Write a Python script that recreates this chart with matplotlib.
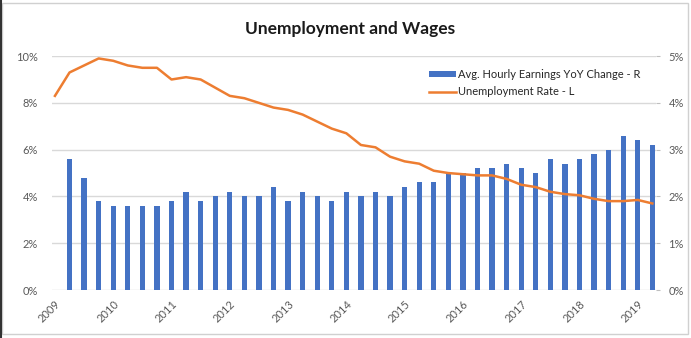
import matplotlib.pyplot as plt
import numpy as np
from matplotlib.lines import Line2D
from matplotlib.patches import Patch, Rectangle
from matplotlib.ticker import FuncFormatter

plt.rcParams["font.family"] = ["Lato", "DejaVu Sans"]

# quarterly observations, 2009 Q1 .. 2019 Q2
unemployment = [
    8.3, 9.3, 9.6, 9.9, 9.8, 9.6, 9.5, 9.5,
    9.0, 9.1, 9.0, 8.65, 8.3, 8.2, 8.0, 7.8,
    7.7, 7.5, 7.2, 6.9, 6.7, 6.2, 6.1, 5.7,
    5.5, 5.4, 5.1, 5.0, 4.95, 4.9, 4.9, 4.75,
    4.5, 4.4, 4.2, 4.1, 4.05, 3.9, 3.8, 3.8,
    3.85, 3.7,
]
# no earnings reading for the first quarter
hourly_earnings = [
    np.nan, 2.8, 2.4, 1.9, 1.8, 1.8, 1.8, 1.8,
    1.9, 2.1, 1.9, 2.0, 2.1, 2.0, 2.0, 2.2,
    1.9, 2.1, 2.0, 1.9, 2.1, 2.0, 2.1, 2.0,
    2.2, 2.3, 2.3, 2.5, 2.5, 2.6, 2.6, 2.7,
    2.6, 2.5, 2.8, 2.7, 2.8, 2.9, 3.0, 3.3,
    3.2, 3.1,
]
years = ["2009", "2010", "2011", "2012", "2013", "2014",
         "2015", "2016", "2017", "2018", "2019"]

BLUE = "#4472C4"
ORANGE = "#ED7D31"
GRID = "#D9D9D9"
TEXT = "#595959"

x = np.arange(len(unemployment))

fig = plt.figure(figsize=(6.91, 3.38), dpi=100)
ax = fig.add_axes([0.0753, 0.142, 0.874, 0.692])
ax2 = ax.twinx()

# bars on the right scale, kept underneath the line
ax2.bar(x, hourly_earnings, width=0.36, color=BLUE, zorder=2)
ax2.set_ylim(0, 5)
ax2.set_yticks(np.arange(0, 6, 1))
ax2.yaxis.set_major_formatter(FuncFormatter(lambda v, _: f"{v:.0f}%"))
ax2.grid(axis="y", color=GRID, linewidth=1)
ax2.set_axisbelow(True)

ax.plot(x, unemployment, color=ORANGE, linewidth=1.8, zorder=3)
ax.set_ylim(0, 10)
ax.set_yticks(np.arange(0, 11, 2))
ax.yaxis.set_major_formatter(FuncFormatter(lambda v, _: f"{v:.0f}%"))
ax.set_zorder(ax2.get_zorder() + 1)
ax.patch.set_visible(False)

ax.set_xlim(-0.2, 41.25)
ax.set_xticks(x[::4])
ax.set_xticklabels(years, rotation=45, ha="right", rotation_mode="anchor")

for a in (ax, ax2):
    for side in ("top", "left", "right", "bottom"):
        a.spines[side].set_visible(False)
    a.tick_params(labelsize=8, labelcolor=TEXT)

ax.tick_params(axis="y", length=0, pad=10)
ax.tick_params(axis="x", length=0, pad=6)
ax2.tick_params(axis="y", length=3, color="#BFBFBF", pad=6)

fig.text(0.507, 0.915, "Unemployment and Wages", ha="center", va="center",
         fontsize=12.5, fontweight="bold", color="#1a1a1a")

handles = [
    Patch(facecolor=BLUE, edgecolor="none"),
    Line2D([0], [0], color=ORANGE, linewidth=1.8),
]
labels = ["Avg. Hourly Earnings YoY Change - R", "Unemployment Rate - L"]
fig.legend(handles, labels, loc="upper left", bbox_to_anchor=(0.614, 0.81),
           frameon=False, fontsize=8, labelcolor="#262626",
           handlelength=2.5, handleheight=0.5, handletextpad=0.15,
           labelspacing=0.6, borderaxespad=0)

# chart area border
fig.patches.append(Rectangle((0.003, 0.012), 0.992, 0.978,
                             transform=fig.transFigure, fill=False,
                             edgecolor="#D0D0D0", linewidth=1))
fig.lines.append(Line2D([0.0015, 0.0015], [0, 1], transform=fig.transFigure,
                        color="#333333", linewidth=1.5))

fig.savefig("out.png", dpi=100)
